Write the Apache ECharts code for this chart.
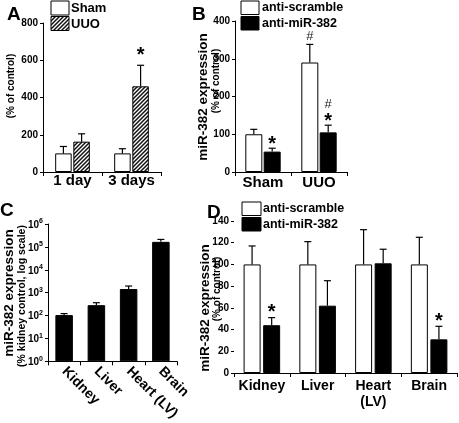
<!DOCTYPE html>
<html><head><meta charset="utf-8">
<script src="https://cdn.jsdelivr.net/npm/echarts@6/dist/echarts.min.js"></script>
<style>html,body{margin:0;padding:0;background:#fff}#c{width:459px;height:423px}</style>
</head><body><div id="c"></div>
<script>
// ---------- Panel A ----------
const aCategories = ['1 day', '3 days'];
const aSham = [100, 100];
const aShamErr = [37, 25];
const aUUO = [163, 460];
const aUUOErr = [42, 113];
const aUUOMarks = ['', '*'];
const aTicks = [0, 200, 400, 600, 800];
const aLegend = ['Sham', 'UUO'];
// ---------- Panel B ----------
const bCategories = ['Sham', 'UUO'];
const bScramble = [100, 290];
const bScrambleErr = [13, 48];
const bScrambleMarks = ['', '#'];
const bAnti = [54, 105];
const bAntiErr = [9, 19];
const bAntiMarks = ['*', '*#'];
const bTicks = [0, 100, 200, 300, 400];
const bdLegend = ['anti-scramble', 'anti-miR-382'];
// ---------- Panel C ----------
const cCategories = ['Kidney', 'Liver', 'Heart (LV)', 'Brain'];
const cValues = [105, 285, 1440, 166000];
const cErr = [17, 80, 510, 46000];
const cTickExp = ['0', '1', '2', '3', '4', '5', '6'];
// ---------- Panel D ----------
const dCategories = ['Kidney', 'Liver', 'Heart\n(LV)', 'Brain'];
const dScramble = [100, 100, 100, 100];
const dScrambleErr = [17, 21, 32, 25];
const dAnti = [44, 62, 101, 31];
const dAntiErr = [7, 23, 13, 12];
const dAntiMarks = ['*', '', '', '*'];
const dTicks = [0, 20, 40, 60, 80, 100, 120, 140];

const FF = '"Liberation Sans", Arial, Helvetica, sans-serif';

// hatch pattern
const pc = document.createElement('canvas');
pc.width = 4; pc.height = 4;
const g = pc.getContext('2d');
g.fillStyle = '#fff'; g.fillRect(0, 0, 4, 4);
g.strokeStyle = '#111'; g.lineWidth = 1.5;
g.beginPath();
g.moveTo(-1, 5); g.lineTo(5, -1);
g.moveTo(-1, 1); g.lineTo(1, -1);
g.moveTo(3, 5); g.lineTo(5, 3);
g.stroke();
const hatch = { image: pc, repeat: 'repeat' };

function errSeries(xi, vals, errs, marks, offset, markGap) {
  const gap = markGap || 0;
  return {
    type: 'custom', xAxisIndex: xi, yAxisIndex: xi, silent: true, z: 5,
    data: vals.map((v, i) => [i, v, errs[i]]),
    renderItem: function (params, api) {
      const i = api.value(0), v = api.value(1), e = api.value(2);
      const p0 = api.coord([i, v]);
      const p1 = api.coord([i, v + e]);
      const x = p0[0] + offset;
      const ls = { stroke: '#000', lineWidth: 1.2 };
      const children = [
        { type: 'line', shape: { x1: x, y1: p0[1], x2: x, y2: p1[1] }, style: ls },
        { type: 'line', shape: { x1: x - 3.5, y1: p1[1], x2: x + 3.5, y2: p1[1] }, style: ls }
      ];
      const mark = marks ? marks[i] : '';
      let y = p1[1] - gap;
      for (const ch of mark) {
        if (ch === '*') {
          children.push({ type: 'text', style: { text: '*', x: x, y: y - 3, align: 'center', verticalAlign: 'middle', font: 'bold 20px ' + FF, fill: '#000' } });
          y -= 12;
        } else {
          children.push({ type: 'text', style: { text: '#', x: x, y: y - 8, align: 'center', verticalAlign: 'middle', font: '13px ' + FF, fill: '#222' } });
          y -= 12;
        }
      }
      return { type: 'group', children: children };
    }
  };
}

function xAx(gi, data, extra) {
  return Object.assign({
    gridIndex: gi, type: 'category', data: data,
    axisLine: { show: true, lineStyle: { color: '#000', width: 1 } },
    axisTick: { show: true, length: 4, lineStyle: { color: '#000' } },
    axisLabel: { color: '#000', fontWeight: 'bold', fontSize: 15, fontFamily: FF, margin: 1, interval: 0, hideOverlap: false },
    splitLine: { show: false }
  }, extra || {});
}
function yAx(gi, ticks, extra) {
  return Object.assign({
    gridIndex: gi, type: 'value', min: ticks[0], max: ticks[ticks.length - 1], interval: ticks[1] - ticks[0],
    axisLine: { show: true, lineStyle: { color: '#000', width: 1 } },
    axisTick: { show: true, length: 3, lineStyle: { color: '#000' } },
    axisLabel: { color: '#000', fontWeight: 'bold', fontSize: 10, fontFamily: FF, margin: 5 },
    splitLine: { show: false }
  }, extra || {});
}
const white = { color: '#fff', borderColor: '#000', borderWidth: 1 };
const black = { color: '#000', borderColor: '#000', borderWidth: 1 };
const hatchStyle = { color: hatch, borderColor: '#000', borderWidth: 1 };

function txt(text, x, y, font, rot, align) {
  return { type: 'text', x: x, y: y, rotation: rot || 0, style: { text: text, font: font, fill: '#000', align: align || 'left', verticalAlign: 'middle' } };
}
function box(x, y, w, h, fill) {
  return { type: 'rect', shape: { x: x, y: y, width: w, height: h }, style: { fill: fill, stroke: '#000', lineWidth: 1 } };
}
const R = Math.PI / 2;
const legendFont = 'bold 12.5px ' + FF;

const option = {
  backgroundColor: '#fff',
  animation: false,
  grid: [
    { left: 43, top: 23, width: 118, height: 149, containLabel: false },
    { left: 235, top: 21, width: 112, height: 151, containLabel: false },
    { left: 48, top: 224, width: 129, height: 148, containLabel: false },
    { left: 234, top: 221, width: 223, height: 152, containLabel: false }
  ],
  xAxis: [
    xAx(0, aCategories),
    xAx(1, bCategories, { axisLabel: { color: '#000', fontWeight: 'bold', fontSize: 15, fontFamily: FF, margin: 3, interval: 0, hideOverlap: false } }),
    xAx(2, cCategories, { axisLabel: { color: '#000', fontWeight: 'bold', fontSize: 14, fontFamily: FF, rotate: -45, margin: 8, interval: 0, hideOverlap: false } }),
    xAx(3, dCategories, { axisLabel: { color: '#000', fontWeight: 'bold', fontSize: 14, fontFamily: FF, margin: 5, interval: 0, lineHeight: 16, hideOverlap: false } })
  ],
  yAxis: [
    yAx(0, aTicks),
    yAx(1, bTicks),
    {
      gridIndex: 2, type: 'log', logBase: 10, min: 1, max: 1e6,
      axisLine: { show: true, lineStyle: { color: '#000', width: 1 } },
      axisTick: { show: true, length: 3, lineStyle: { color: '#000' } },
      splitLine: { show: false },
      axisLabel: {
        margin: 5, color: '#000',
        formatter: function (v) { return '{b|10}{s|' + cTickExp[Math.round(Math.log10(v))] + '}'; },
        rich: {
          b: { fontSize: 10, fontWeight: 'bold', fontFamily: FF, color: '#000', lineHeight: 12, verticalAlign: 'bottom' },
          s: { fontSize: 7, fontWeight: 'bold', fontFamily: FF, color: '#000', lineHeight: 12, verticalAlign: 'top', padding: [0, 0, 5, 0] }
        }
      }
    },
    yAx(3, dTicks, { axisLine: { show: false } })
  ],
  series: [
    { type: 'bar', name: aLegend[0], xAxisIndex: 0, yAxisIndex: 0, data: aSham, barWidth: 16.5, barGap: '10%', itemStyle: white },
    { type: 'bar', name: aLegend[1], xAxisIndex: 0, yAxisIndex: 0, data: aUUO, barWidth: 16.5, barGap: '10%', itemStyle: hatchStyle },
    errSeries(0, aSham, aShamErr, null, -9.1),
    errSeries(0, aUUO, aUUOErr, aUUOMarks, 9.1, 7),

    { type: 'bar', name: bdLegend[0], xAxisIndex: 1, yAxisIndex: 1, data: bScramble, barWidth: 17, barGap: '8%', itemStyle: white },
    { type: 'bar', name: bdLegend[1], xAxisIndex: 1, yAxisIndex: 1, data: bAnti, barWidth: 17, barGap: '8%', itemStyle: black },
    errSeries(1, bScramble, bScrambleErr, bScrambleMarks, -9.2),
    errSeries(1, bAnti, bAntiErr, bAntiMarks, 9.2, 1),

    { type: 'bar', name: 'C', xAxisIndex: 2, yAxisIndex: 2, data: cValues, barWidth: 17.5, itemStyle: black },
    errSeries(2, cValues, cErr, null, 0),

    { type: 'bar', name: bdLegend[0] + ' D', xAxisIndex: 3, yAxisIndex: 3, data: dScramble, barWidth: 17, barGap: '15%', itemStyle: white },
    { type: 'bar', name: bdLegend[1] + ' D', xAxisIndex: 3, yAxisIndex: 3, data: dAnti, barWidth: 17, barGap: '15%', itemStyle: black },
    errSeries(3, dScramble, dScrambleErr, null, -9.8),
    errSeries(3, dAnti, dAntiErr, dAntiMarks, 9.8, 2)
  ],
  graphic: [
    // panel letters
    txt('A', 7, 15, 'bold 19px ' + FF),
    txt('B', 192, 15, 'bold 19px ' + FF),
    txt('C', 0, 211, 'bold 19px ' + FF),
    txt('D', 207, 213, 'bold 19px ' + FF),
    // axis titles
    txt('(% of control)', 11, 86, 'bold 10px ' + FF, R, 'center'),
    txt('miR-382 expression', 203, 97, 'bold 13.5px ' + FF, R, 'center'),
    txt('(% of control)', 216, 81, 'bold 10px ' + FF, R, 'center'),
    txt('miR-382 expression', 9, 293, 'bold 13.5px ' + FF, R, 'center'),
    txt('(% kidney control, log scale)', 22, 296, 'bold 10.5px ' + FF, R, 'center'),
    txt('miR-382 expression', 205, 308, 'bold 13.5px ' + FF, R, 'center'),
    txt('(% of control)', 217, 289, 'bold 10px ' + FF, R, 'center'),
    // legends
    box(51, 1, 18, 14, '#fff'), txt(aLegend[0], 71, 8, 'bold 13px ' + FF),
    box(51, 16.5, 18, 14, hatch), txt(aLegend[1], 71, 24, 'bold 13px ' + FF),
    box(241, 1, 18, 13.5, '#fff'), txt(bdLegend[0], 262, 8, legendFont),
    box(241, 16.5, 18, 13.5, '#000'), txt(bdLegend[1], 262, 23.5, legendFont),
    box(242, 202, 19, 13.5, '#fff'), txt(bdLegend[0], 263, 209, legendFont),
    box(242, 217.5, 19, 13.5, '#000'), txt(bdLegend[1], 263, 224.5, legendFont)
  ]
};
const chart = echarts.init(document.getElementById('c'));
chart.setOption(option);
</script>
</body></html>
